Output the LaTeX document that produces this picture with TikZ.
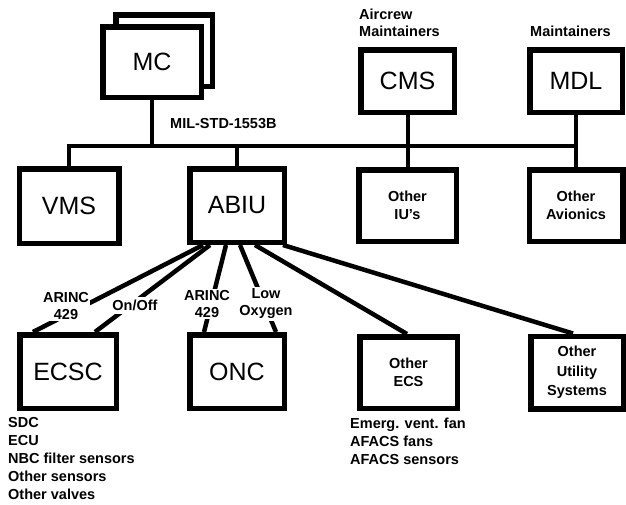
\documentclass[tikz,border=0pt]{standalone}
\usepackage{fontspec}
\setmainfont{Liberation Sans}
\usetikzlibrary{calc}
\pgfdeclarelayer{bg}
\pgfsetlayers{bg,main}
\begin{document}
\begin{tikzpicture}[x=1pt,y=-1pt,
 box/.style={draw, line width=5.5pt, fill=white, inner sep=0pt, font=\fontsize{25}{30}\selectfont},
 sbox/.style={draw, line width=5.5pt, fill=white, inner sep=0pt, align=center, font=\fontsize{14.5}{18}\selectfont\bfseries},
 conn/.style={line width=4pt},
 fan/.style={line width=4.5pt},
 lbl/.style={font=\fontsize{14.5}{17}\selectfont\bfseries, align=center, fill=white, inner sep=1.5pt},
 txt/.style={font=\fontsize{14.5}{18}\selectfont\bfseries, align=left, inner sep=0pt}
]
\useasboundingbox (0,0) rectangle (626,504);

% boxes
\node[box, minimum width=96.5pt, minimum height=71.5pt] (MCback) at (164,50.5) {};
\node[box, minimum width=98.5pt, minimum height=70.5pt] (MC) at (152,62) {MC};
\node[box, minimum width=93.5pt, minimum height=62.5pt] (CMS) at (407.5,81) {CMS};
\node[box, minimum width=92.5pt, minimum height=62.5pt] (MDL) at (576,81) {MDL};
\node[box, minimum width=99.5pt, minimum height=74.5pt] (VMS) at (69,206) {VMS};
\node[box, minimum width=94.5pt, minimum height=73.5pt] (ABIU) at (237,205.5) {ABIU};
\node[sbox, minimum width=97.5pt, minimum height=71.5pt] (OIU) at (407.5,205.5) {Other\\IU's};
\node[sbox, minimum width=93.5pt, minimum height=71.5pt] (OAV) at (576,205.5) {Other\\Avionics};
\node[box, minimum width=96.5pt, minimum height=73.5pt] (ECSC) at (68,371.5) {ECSC};
\node[box, minimum width=94.5pt, minimum height=73.5pt] (ONC) at (237,371.5) {ONC};
\node[sbox, minimum width=97.5pt, minimum height=71.5pt] (OECS) at (408.5,372.5) {Other\\ECS};
\node[sbox, minimum width=92.5pt, minimum height=72.5pt, font=\fontsize{14.5}{19.5}\selectfont\bfseries] (OUS) at (577,372.5) {Other\\Utility\\Systems};

% bus coordinates
\coordinate (busL) at (69,145.5);
\coordinate (busR) at (576,145.5);

% texts
\node[txt, anchor=west] (air) at (359,14) {Aircrew};
\node[txt, anchor=west] (mnt1) at (359,31) {Maintainers};
\node[txt, anchor=west] (mnt2) at (530,31) {Maintainers};
\node[txt, anchor=west] (mil) at (170,123.5) {MIL-STD-1553B};
\node[txt, anchor=north west] (ecsclist) at (8,414.5) {\strut SDC\\ECU\\NBC filter sensors\\Other sensors\\Other valves};
\node[txt, anchor=north west] (oecslist) at (350,415.2) {\strut Emerg. vent. fan\\AFACS fans\\AFACS sensors};

% fan labels
\node[lbl] (a1) at (66,306) {ARINC\\429};
\node[lbl, inner sep=3pt] (oo) at (135,305.5) {On/Off};
\node[lbl] (a2) at (207,304) {ARINC\\429};
\node[lbl] (lo) at (266,304) {Low\\Oxygen};

\begin{pgfonlayer}{bg}
\draw[conn] (VMS.north) |- (busR);
\draw[conn] (MC.south) -- (MC.south |- busL);
\draw[conn] (ABIU.north) -- (ABIU.north |- busL);
\draw[conn] (CMS.south) -- (OIU.north);
\draw[conn] (MDL.south) -- (OAV.north);
\draw[fan] ($(ABIU.south)+(-34,0)$) -- ($(ECSC.north)+(-35,0)$);
\draw[fan] ($(ABIU.south)+(-27,0)$) -- ($(ECSC.north)+(27,0)$);
\draw[fan] ($(ABIU.south)+(-11,0)$) -- ($(ONC.north)+(-33,0)$);
\draw[fan] ($(ABIU.south)+(3,0)$) -- ($(ONC.north)+(39,0)$);
\draw[fan] ($(ABIU.south)+(18,0)$) -- ($(OECS.north)+(-1.5,0)$);
\draw[fan] ($(ABIU.south)+(46,0)$) -- ($(OUS.north)+(-4,0)$);
\end{pgfonlayer}
\end{tikzpicture}
\end{document}
